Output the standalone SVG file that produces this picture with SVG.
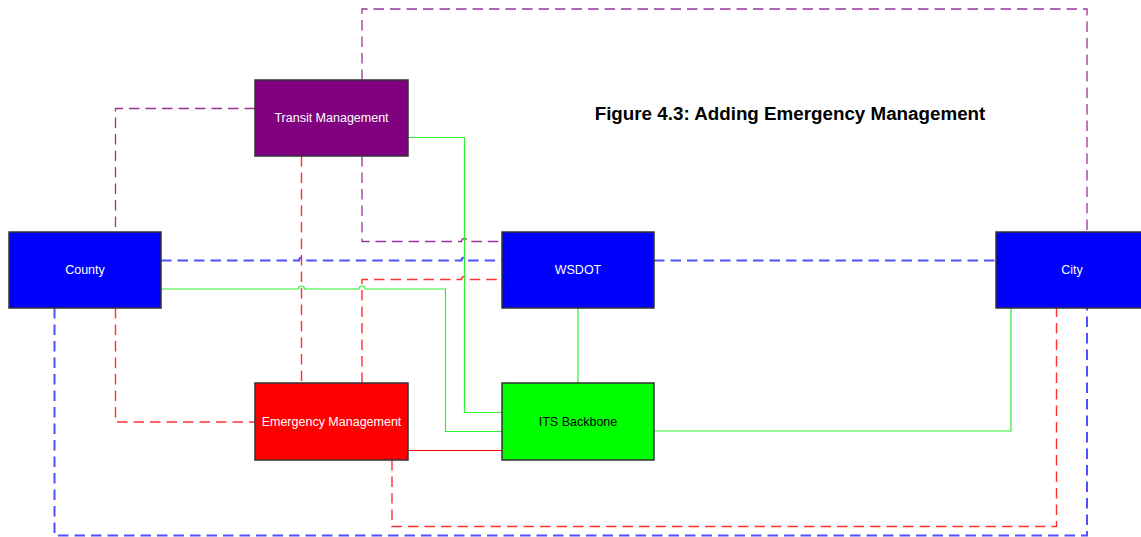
<svg xmlns="http://www.w3.org/2000/svg" width="1141" height="537" viewBox="0 0 1141 537">
<style>
.node rect{stroke:#333;stroke-width:1.5}
.lbl{font-family:"Liberation Sans",Arial,sans-serif;font-size:12.5px;text-anchor:middle;fill:#fff}
.dark{fill:#000}
.title{font-family:"Liberation Sans",Arial,sans-serif;font-size:18.8px;font-weight:bold;text-anchor:middle;fill:#000}
#connectors path{fill:none}
.pd{stroke:#993399;stroke-width:1.3;stroke-dasharray:10.5 6}
.bd{stroke:#5050ff;stroke-width:2;stroke-dasharray:10.5 6}
.rd{stroke:#ff3030;stroke-width:1.4;stroke-dasharray:10.5 6}
.rs{stroke:#ff0000;stroke-width:1.2}
.gs{stroke:#33ee33;stroke-width:1.2}
</style>
<rect width="1141" height="537" fill="#fff"/>
<g id="connectors">
  <path class="pd" d="M255,108.5 H115.5 V232"/>
  <path class="pd" d="M362,80 V9 H1087 V232"/>
  <path class="pd" d="M362,156 V241.5 H461.5 a3,3 0 0 1 6,0 H502"/>
  <path class="bd" d="M161,260.5 H299 a3,3 0 0 1 6,0 H461.5 a3,3 0 0 1 6,0 H502"/>
  <path class="bd" d="M654,260.5 H996"/>
  <path class="bd" d="M54.5,308 V535.5 H1087 V308"/>
  <path class="rd" d="M301.5,156 V383"/>
  <path class="rd" d="M362,383 V279.5 H461.5 a3,3 0 0 1 6,0 H502"/>
  <path class="rd" d="M115.5,308 V422 H255"/>
  <path class="rd" d="M392,460 V526.5 H1056.5 V308"/>
  <path class="rs" d="M408,450.5 H502"/>
  <path class="gs" d="M408,137.5 H464.5 V412.5 H502"/>
  <path class="gs" d="M161,289 H298.5 a3,3 0 0 1 6,0 H359 a3,3 0 0 1 6,0 H445.5 V431.5 H502"/>
  <path class="gs" d="M578,308 V383"/>
  <path class="gs" d="M654,431 H1011 V308"/>
</g>
<g id="transit" class="node">
  <rect x="255" y="80" width="153" height="76" fill="#800080"/>
  <text class="lbl" x="331.5" y="122">Transit Management</text>
</g>
<g id="county" class="node">
  <rect x="9" y="232" width="152" height="76" fill="#0000ff"/>
  <text class="lbl" x="85" y="274">County</text>
</g>
<g id="wsdot" class="node">
  <rect x="502" y="232" width="152" height="76" fill="#0000ff"/>
  <text class="lbl" x="578" y="274">WSDOT</text>
</g>
<g id="city" class="node">
  <rect x="996" y="232" width="152" height="76" fill="#0000ff"/>
  <text class="lbl" x="1072" y="274">City</text>
</g>
<g id="emergency" class="node">
  <rect x="255" y="383" width="153" height="77" fill="#ff0000"/>
  <text class="lbl" x="331.5" y="426">Emergency Management</text>
</g>
<g id="its" class="node">
  <rect x="502" y="383" width="152" height="77" fill="#00ff00"/>
  <text class="lbl dark" x="578" y="426">ITS Backbone</text>
</g>
<text class="title" x="790" y="120">Figure 4.3: Adding Emergency Management</text>
</svg>
